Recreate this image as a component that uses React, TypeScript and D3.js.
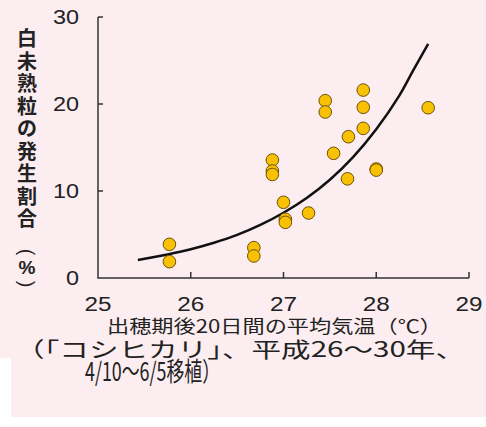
import * as d3 from "d3";

// 出穂期後20日間の平均気温 (°C) と 白未熟粒の発生割合 (%)
const tempX = [25.77, 25.77, 26.68, 26.68, 26.88, 26.88, 26.88, 27.0, 27.02, 27.02, 27.27, 27.45, 27.45, 27.54, 27.69, 27.7, 27.86, 27.86, 27.86, 28.0, 28.0, 28.56];
const rateY = [3.87, 1.88, 3.49, 2.53, 13.56, 12.3, 11.9, 8.7, 6.75, 6.4, 7.47, 20.38, 19.08, 14.33, 11.4, 16.24, 21.6, 19.62, 17.2, 12.53, 12.4, 19.57];

// 近似曲線
const curveX = [25.43, 25.75, 26.0, 26.25, 26.5, 26.75, 27.0, 27.25, 27.5, 27.75, 28.0, 28.25, 28.4, 28.56];
const curveY = [2.07, 2.7, 3.3, 4.05, 4.95, 6.1, 7.5, 9.2, 11.3, 13.9, 17.1, 21.0, 23.9, 26.9];

const xTicks = [25, 26, 27, 28, 29];
const yTicks = [0, 10, 20, 30];
const yLabel = ["白", "未", "熟", "粒", "の", "発", "生", "割", "合"];
const xTitle = "出穂期後20日間の平均気温（℃）";
const note1 = "（「コシヒカリ」、平成26～30年、";
const note2 = "4/10～6/5移植）";

const W = 486;
const H = 427;
const jp = "'Noto Sans CJK JP', 'Noto Sans', sans-serif";
const num = "'Liberation Sans', Arial, sans-serif";

export default function App() {
  const x = d3.scaleLinear().domain([25, 29]).range([98, 469]);
  const y = d3.scaleLinear().domain([0, 30]).range([278, 17]);

  const line = d3
    .line<number>()
    .x((d) => x(d))
    .y((_, i) => y(curveY[i]))
    .curve(d3.curveCatmullRom);

  return (
    <svg width={W} height={H} style={{ position: "fixed", left: 0, top: 0, display: "block" }}>
      <rect width={W} height={H} fill="#fcedf0" />
      <rect x={0} y={358} width={11} height={H - 358} fill="#fff" />
      <rect x={0} y={417} width={W} height={H - 417} fill="#fff" />

      {/* axes */}
      <g stroke="#333" strokeWidth={1.5} fill="none">
        <path d={`M${x(25)},${y(30)}V${y(0)}H${x(29)}`} />
        {yTicks.filter((t) => t > 0).map((t) => (
          <line key={t} x1={x(25)} x2={x(25) + 5} y1={y(t)} y2={y(t)} />
        ))}
        {xTicks.filter((t) => t > 25).map((t) => (
          <line key={t} x1={x(t)} x2={x(t)} y1={y(0)} y2={y(0) - 6} />
        ))}
      </g>

      {yTicks.map((t) => (
        <text key={t} x={79} y={y(t) + 7} textAnchor="end" fontFamily={num} fontSize={20} fill="#222"
          textLength={String(t).length * 13} lengthAdjust="spacingAndGlyphs">
          {t}
        </text>
      ))}
      {xTicks.map((t) => (
        <text key={t} x={x(t)} y={311} textAnchor="middle" fontFamily={num} fontSize={20} fill="#222"
          textLength={27} lengthAdjust="spacingAndGlyphs">
          {t}
        </text>
      ))}

      {/* y label, stacked vertically */}
      <g fontFamily={jp} fontSize={20} fontWeight={700} fill="#222" textAnchor="middle">
        {yLabel.map((c, i) => (
          <text key={i} x={27} y={39 + i * 22.5 + 7}>{c}</text>
        ))}
      </g>
      <g fontFamily={num} fill="#222" textAnchor="middle">
        <text transform="translate(27,252) rotate(90)" dominantBaseline="central" fontSize={20}>(</text>
        <text x={27} y={274} fontSize={19} fontWeight={700}>%</text>
        <text transform="translate(27,284) rotate(90)" dominantBaseline="central" fontSize={20}>)</text>
      </g>

      <text x={107} y={333} fontFamily={jp} fontSize={18} fontWeight={400} fill="#222"
        textLength={335} lengthAdjust="spacingAndGlyphs">
        {xTitle}
      </text>
      <text x={15} y={357} fontFamily={jp} fontSize={21} fontWeight={400} fill="#222"
        textLength={450} lengthAdjust="spacingAndGlyphs">
        {note1}
      </text>
      <text x={85} y={381} fontFamily={jp} fontSize={26} fontWeight={400} fill="#222"
        textLength={135} lengthAdjust="spacingAndGlyphs">
        {note2}
      </text>

      <path d={line(curveX) ?? ""} fill="none" stroke="#111" strokeWidth={2.5} />

      {tempX.map((t, i) => (
        <circle key={i} cx={x(t)} cy={y(rateY[i])} r={6.3} fill="#f8c104" stroke="#6e5208" strokeWidth={1} />
      ))}
    </svg>
  );
}
